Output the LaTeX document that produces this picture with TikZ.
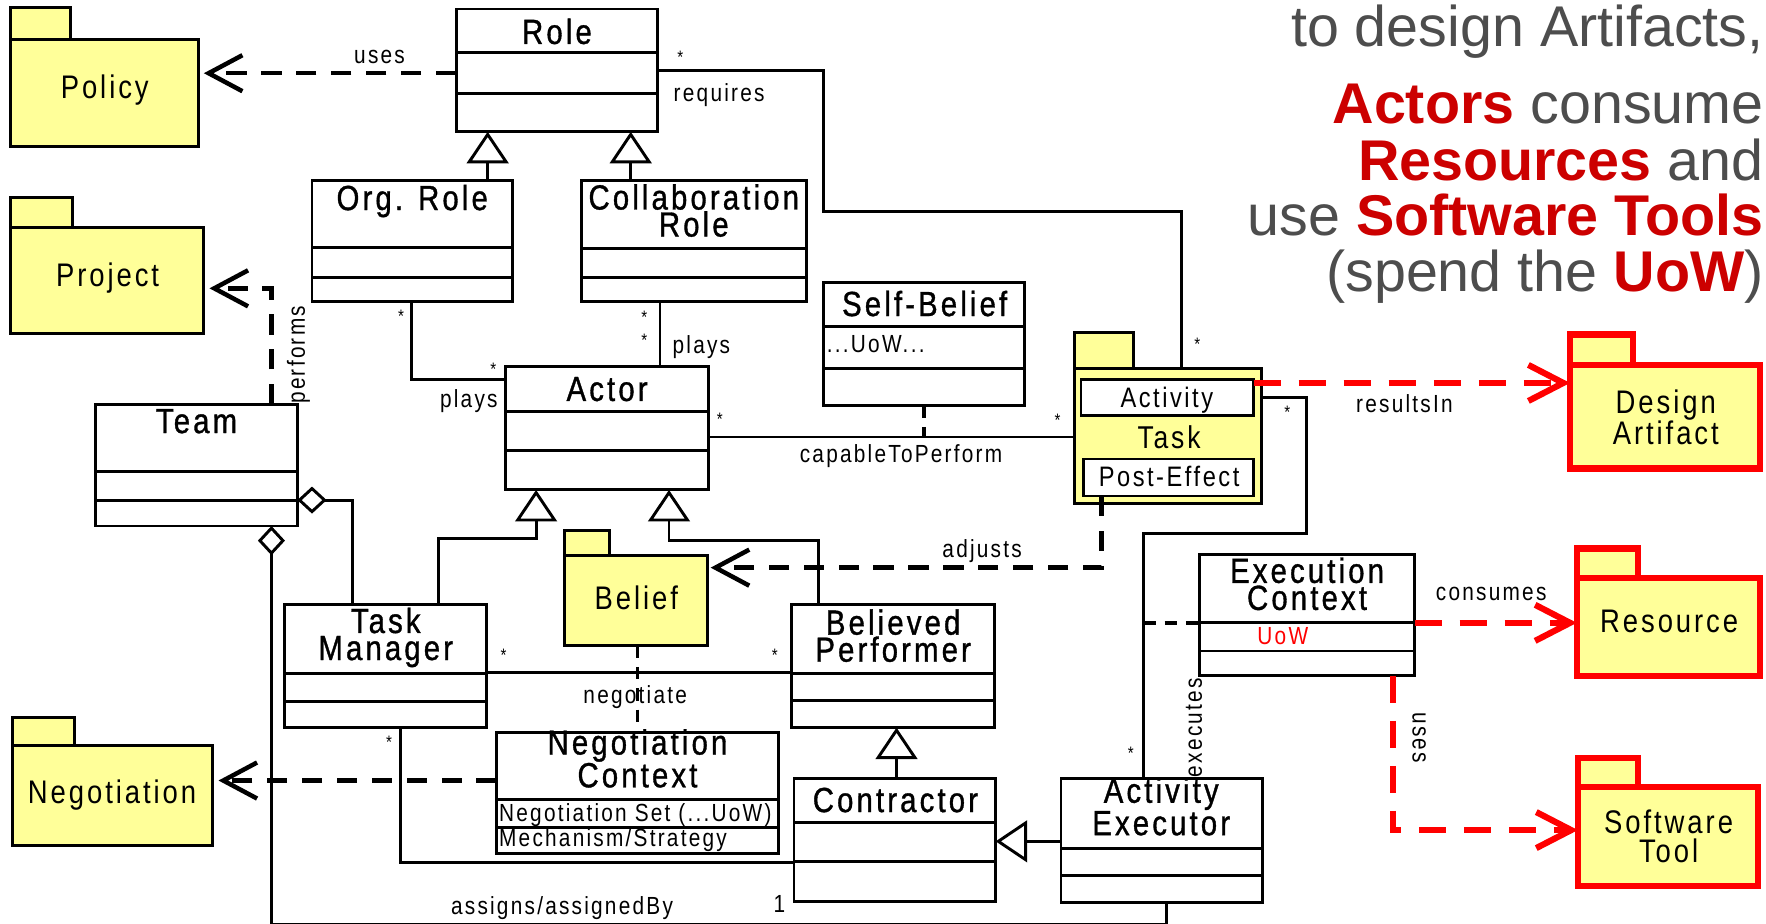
\documentclass[tikz,border=0pt]{standalone}
\usepackage{fontspec}
\setmainfont{Liberation Sans}
\newfontfamily\umlfont{Liberation Sans}[FakeStretch=0.84,LetterSpace=9]
\newfontfamily\umltitle{Liberation Sans}[FakeStretch=0.84,LetterSpace=9,FakeBold=1]
\usetikzlibrary{arrows.meta}
\definecolor{pkgfill}{HTML}{FFFF99}
\definecolor{headred}{HTML}{CC0000}
\definecolor{headgray}{HTML}{4D4D4D}
\definecolor{linkred}{HTML}{FF0000}

% class box: name, x1, y1, x2, y2, first divider y, second divider y
\newcommand\umlclass[7]{%
  \node[clsbox, minimum width={(#4)-(#2)}, minimum height={(#5)-(#3)}] (#1) at ({((#2)+(#4))/2},{((#3)+(#5))/2}) {};
  \draw[assoc] (#1.west |- 0,#6) -- (#1.east |- 0,#6) (#1.west |- 0,#7) -- (#1.east |- 0,#7);}

% package: style, name, x1, tab top, body top, x2, y2, tab right
\newcommand\umlpkg[8]{%
  \draw[#1] (#3,#4) rectangle (#8,#5);
  \node[#1, minimum width={(#6)-(#3)}, minimum height={(#7)-(#5)}] (#2) at ({((#3)+(#6))/2},{((#5)+(#7))/2}) {};}

\begin{document}
\begin{tikzpicture}[x=1pt, y=-1pt,
  clsbox/.style={draw, line width=2.6pt, fill=white, inner sep=0pt, outer sep=0pt},
  pkg/.style={draw, line width=2.6pt, fill=pkgfill, inner sep=0pt, outer sep=0pt},
  redpkg/.style={draw=linkred, line width=5.5pt, fill=pkgfill, inner sep=0pt, outer sep=0pt},
  inbox/.style={draw, line width=2pt, fill=white, inner sep=0pt, outer sep=0pt},
  assoc/.style={line width=2.6pt},
  dep/.style={line width=4pt, dash pattern=on 18pt off 13pt, -{Straight Barb[length=30pt,width=32pt]}, shorten >=5pt},
  reddep/.style={draw=linkred, line width=5.5pt, dash pattern=on 24pt off 16pt, -{Straight Barb[length=31pt,width=32pt]}},
  linkdash/.style={line width=3.5pt, dash pattern=on 11pt off 8pt},
  gen/.style={line width=2.6pt, -{Triangle[fill=white, length=28pt, width=37pt]}},
  agg/.style={line width=2.6pt, {Diamond[fill=white, length=26pt, width=24pt]}-},
  ttl/.style={font=\umltitle\fontsize{31}{24}\selectfont, inner sep=0pt, align=center, anchor=base},
  pkgtxt/.style={font=\umlfont\fontsize{29}{26}\selectfont, inner sep=0pt, align=center, anchor=base},
  lbl/.style={font=\umlfont\fontsize{22}{22}\selectfont, inner sep=0pt, anchor=base},
  attr/.style={font=\umlfont\fontsize{22}{22}\selectfont, inner sep=0pt, anchor=base west},
  mult/.style={font=\umlfont\fontsize{16}{16}\selectfont, inner sep=0pt},
  head/.style={font=\fontsize{51}{51}\selectfont, text=headgray, inner sep=0pt, anchor=base east}]

\fill[white] (0,0) rectangle (1568,820);
\useasboundingbox (0,0) rectangle (1568,820);

% ---- headline, top right
\node[head] (h1) at (1566,41) {to design Artifacts,};
\node[head] (h2) at (1566,109.5) {\textcolor{headred}{\bfseries Actors} consume};
\node[head] (h3) at (1566,160) {\textcolor{headred}{\bfseries Resources} and};
\node[head] (h4) at (1566,208.7) {use \textcolor{headred}{\bfseries Software Tools}};
\node[head] (h5) at (1566,259) {(spend the \textcolor{headred}{\bfseries UoW})};

% ---- packages
\umlpkg{pkg}{policy}{9}{7}{35}{176}{130}{63}
\umlpkg{pkg}{project}{9}{175}{202}{181}{296}{64}
\umlpkg{pkg}{negotiation}{11}{637}{662}{189}{751}{66}
\umlpkg{pkg}{belief}{501}{471}{493}{628}{573}{541}
\umlpkg{pkg}{taskpkg}{954}{295}{327}{1120}{447}{1006}
\umlpkg{redpkg}{designart}{1394}{297}{324}{1563}{416}{1450}
\umlpkg{redpkg}{resource}{1400}{487}{513}{1563}{600}{1454}
\umlpkg{redpkg}{swtool}{1401}{673}{699}{1561}{787}{1454}

\node[inbox, minimum width=153pt, minimum height=32pt] (act) at (1036.5,353) {};
\node[inbox, minimum width=151pt, minimum height=33pt] (posteff) at (1037.5,424) {};

\node[pkgtxt] (policy-t) at (93,87.5) {Policy};
\node[pkgtxt] (project-t) at (95.5,254) {Project};
\node[pkgtxt] (negotiation-t) at (99.5,713) {Negotiation};
\node[pkgtxt] (belief-t) at (565,541.5) {Belief};
\node[pkgtxt] (designart-t) at (1479,395) {Design\\Artifact};
\node[pkgtxt] (resource-t) at (1482,562) {Resource};
\node[pkgtxt] (swtool-t) at (1481.5,766) {Software\\Tool};
\node[font=\umlfont\fontsize{28}{28}\selectfont, inner sep=0pt, anchor=base] (task-t) at (1038,398) {Task};
\node[font=\umlfont\fontsize{25}{25}\selectfont, inner sep=0pt, anchor=base] (act-t) at (1036,362) {Activity};
\node[font=\umlfont\fontsize{25}{25}\selectfont, inner sep=0pt, anchor=base] (posteff-t) at (1038,432) {Post-Effect};

% ---- classes
\umlclass{role}{405}{8}{584}{117}{47}{83}
\umlclass{orgrole}{277}{160}{455}{268}{220}{246}
\umlclass{collab}{516}{160}{716}{268}{221}{246}
\umlclass{selfbelief}{731}{251}{910}{360}{290}{327}
\umlclass{actor}{449}{325}{629}{435}{365}{400}
\umlclass{team}{85}{359}{264}{467}{419}{444}
\umlclass{tm}{253}{537}{432}{646}{598}{623}
\umlclass{bp}{703}{537}{883}{646}{598}{622}
\umlclass{nc}{441}{650}{691}{758}{710}{735}
\umlclass{contractor}{705}{691}{884}{800}{730}{765}
\umlclass{ae}{942}{691}{1121}{801}{753}{777}
\umlclass{ec}{1065}{492}{1256}{600}{553}{578}

% titles: anchor base is the last line's baseline
\node[ttl] (role-t) at (494.5,39) {Role};
\node[ttl] (orgrole-t) at (366,186.5) {Org. Role};
\node[ttl] (collab-t) at (616,210) {Collaboration\\Role};
\node[ttl] (selfbelief-t) at (821,280.6) {Self-Belief};
\node[ttl] (actor-t) at (539,356) {Actor};
\node[ttl] (team-t) at (174.5,384.5) {Team};
\node[ttl] (tm-t) at (342.5,586) {Task\\Manager};
\node[ttl] (bp-t) at (793,587.5) {Believed\\Performer};
\node[ttl] (nc-t) at (566,699) {Negotiation\\Context};
\node[ttl] (contractor-t) at (795,721) {Contractor};
\node[ttl] (ae-t) at (1031,741.5) {Activity\\Executor};
\node[ttl] (ec-t) at (1160.5,541.5) {Execution\\Context};

\node[attr] (selfbelief-a) at (734,313) {...UoW...};
\node[attr, anchor=base, text=linkred] (ec-a) at (1139,572) {UoW};
\node[attr] (nc-a1) at (443,729.5) {Negotiation Set (...UoW)};
\node[attr] (nc-a2) at (443,751.7) {Mechanism/Strategy};

% ---- generalizations
\draw[gen] (orgrole.north -| 433,0) -- (role.south -| 433,0);
\draw[gen] (collab.north -| 560,0) -- (role.south -| 560,0);
\draw[gen] (tm.north -| 389,0) -- (389,478) -- (476,478) -- (actor.south -| 476,0);
\draw[gen] (bp.north -| 727,0) -- (727,480) -- (594,480) -- (actor.south -| 594,0);
\draw[gen] (contractor.north -| 796,0) -- (bp.south -| 796,0);
\draw[gen] (ae.west |- 0,747) -- (contractor.east |- 0,747);

% ---- associations
\draw[assoc] (role.east |- 0,63) -- (731,63) -- (731,188) -- (1049,188) -- (taskpkg.north -| 1049,0);
\draw[assoc] (orgrole.south -| 365,0) -- (365,337) -- (actor.west |- 0,337);
\draw[assoc] (collab.south -| 586,0) -- (actor.north -| 586,0);
\draw[assoc] (actor.east |- 0,388) -- (taskpkg.west |- 0,388);
\draw[linkdash] (selfbelief.south -| 820,0) -- (820,388);
\draw[assoc] (taskpkg.east |- 0,353) -- (1160,353) -- (1160,474) -- (1015,474) -- (ae.north -| 1015,0);
\draw[linkdash] (1015,553) -- (ec.west |- 0,553);
\draw[assoc] (tm.east |- 0,597) -- (bp.west |- 0,597);
\draw[linkdash] (belief.south -| 566,0) -- (nc.north -| 566,0);
\draw[assoc] (tm.south -| 356,0) -- (356,766) -- (contractor.west |- 0,766);
\draw[agg] (team.east |- 0,444) -- (313,444) -- (tm.north -| 313,0);
\draw[agg] (team.south -| 241,0) -- (241,821.2) -- (1036,821.2) -- (ae.south -| 1036,0);

% ---- dependencies
\draw[dep] (role.west |- 0,65) -- (policy.east |- 0,65);
\draw[dep] (team.north -| 241,0) -- (241,256) -- (project.east |- 0,256);
\draw[dep, shorten >=3pt] (posteff.south -| 978,0) -- (978,504) -- (belief.east |- 0,504);
\draw[dep] (nc.west |- 0,693) -- (negotiation.east |- 0,693);
\draw[reddep] (act.east |- 0,340) -- (designart.west |- 0,340);
\draw[reddep] (ec.east |- 0,553) -- (resource.west |- 0,553);
\draw[reddep] (ec.south -| 1237,0) -- (1237,737) -- (swtool.west |- 0,737);

% ---- connector labels
\node[lbl] (l-uses) at (337,56) {uses};
\node[lbl, anchor=base west] (l-requires) at (598,90) {requires};
\node[lbl, anchor=base east] (l-plays1) at (442,362) {plays};
\node[lbl, anchor=base west] (l-plays2) at (597,314) {plays};
\node[lbl] (l-capable) at (800,411) {capableToPerform};
\node[lbl] (l-results) at (1247,366) {resultsIn};
\node[lbl] (l-adjusts) at (872,495) {adjusts};
\node[lbl] (l-negotiate) at (564,625) {negotiate};
\node[lbl] (l-consumes) at (1324,533) {consumes};
\node[lbl] (l-assigns) at (499,812) {assigns/assignedBy};
\node[lbl] (l-one) at (692,810) {1};
\node[lbl, anchor=center, rotate=90] (l-performs) at (265,315) {performs};
\node[lbl, anchor=center, rotate=90] (l-executes) at (1060,646) {executes};
\node[lbl, anchor=center, rotate=-90] (l-uses2) at (1260,655) {uses};

% ---- multiplicities
\node[mult] (m1) at (604,51) {*};
\node[mult] (m2) at (356,281) {*};
\node[mult] (m3) at (438,328) {*};
\node[mult] (m4) at (572,282) {*};
\node[mult] (m5) at (572,302) {*};
\node[mult] (m6) at (639,372) {*};
\node[mult] (m7) at (939,373) {*};
\node[mult] (m8) at (1063,306) {*};
\node[mult] (m9) at (1143,366) {*};
\node[mult] (m10) at (447,581.5) {*};
\node[mult] (m11) at (688,581.5) {*};
\node[mult] (m12) at (345.5,659) {*};
\node[mult] (m13) at (1004,669) {*};
\end{tikzpicture}
\end{document}
